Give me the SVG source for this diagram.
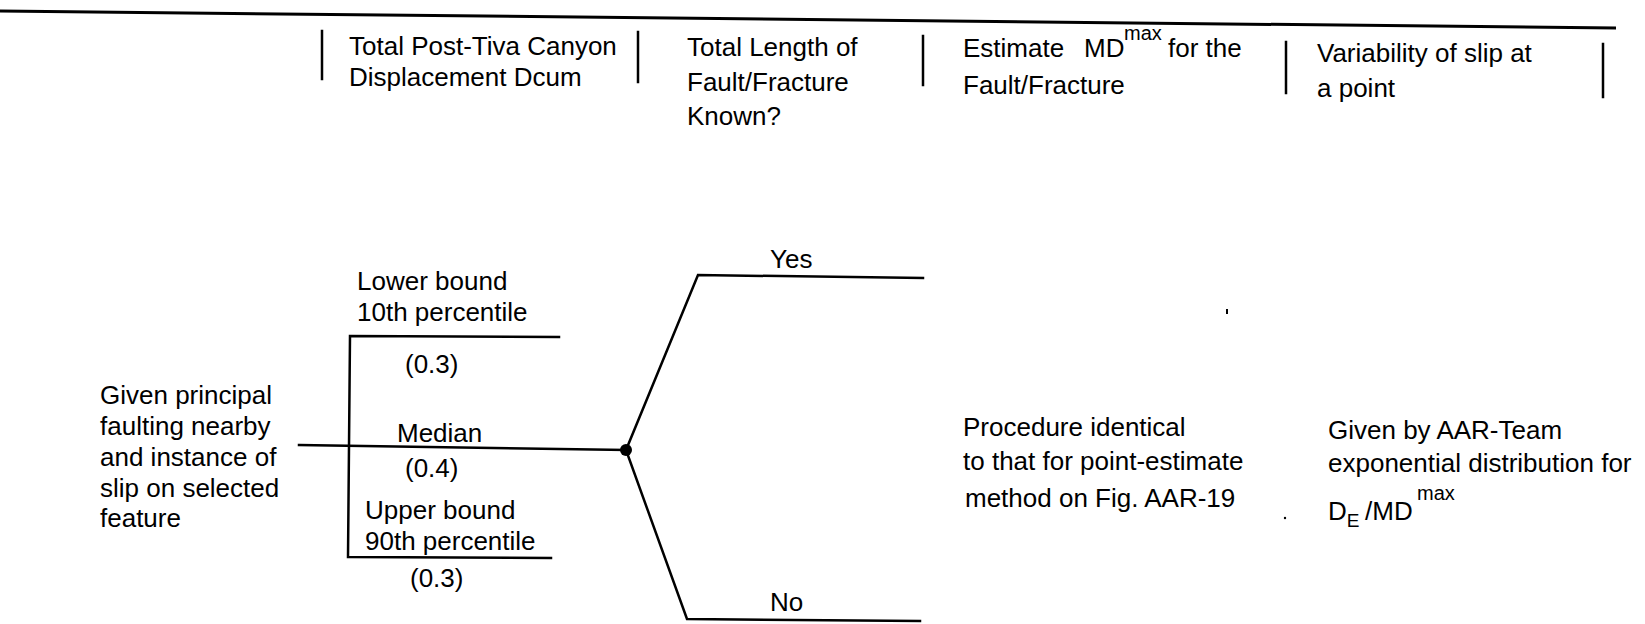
<svg xmlns="http://www.w3.org/2000/svg" width="1645" height="624" viewBox="0 0 1645 624">
  <style>
    .t { font-family: "Liberation Sans", Arial, Helvetica, sans-serif; font-size: 26px; fill: #000; }
    .sup { font-size: 20px; }
    .sub { font-size: 19px; }
    .ln { stroke: #000; stroke-width: 2.5; fill: none; stroke-linecap: square; }
  </style>
  <rect width="1645" height="624" fill="#fff"/>

  <!-- header rule and column separators -->
  <g id="header">
    <path d="M0,11 L1616,28" stroke="#000" stroke-width="3" fill="none"/>
    <path class="ln" d="M322,31 V79 M638,32 V82 M923,36 V85 M1286,42 V93 M1603,44 V97"/>
  </g>

  <g id="col-dcum">
    <text class="t" x="349" y="55">Total Post-Tiva Canyon</text>
    <text class="t" x="349" y="86">Displacement Dcum</text>
  </g>
  <g id="col-length">
    <text class="t" x="687" y="56">Total Length of</text>
    <text class="t" x="687" y="91">Fault/Fracture</text>
    <text class="t" x="687" y="125">Known?</text>
  </g>
  <g id="col-mdmax">
    <text class="t" x="963" y="57">Estimate<tspan x="1084">MD</tspan><tspan class="sup" x="1124" dy="-17">max</tspan><tspan x="1168" dy="17">for the</tspan></text>
    <text class="t" x="963" y="94">Fault/Fracture</text>
  </g>
  <g id="col-variability">
    <text class="t" x="1317" y="62">Variability of slip at</text>
    <text class="t" x="1317" y="97">a point</text>
  </g>

  <!-- decision tree branches -->
  <g id="connectors">
    <path class="ln" d="M299,445 L626,450"/>
    <path class="ln" d="M559,337 L350,336 L348,557 L551,558"/>
    <path class="ln" d="M626,450 L698,275 L923,278"/>
    <path class="ln" d="M626,450 L687,619 L920,621"/>
  </g>

  <g id="start">
    <text class="t" x="100" y="404">Given principal</text>
    <text class="t" x="100" y="435">faulting nearby</text>
    <text class="t" x="100" y="466">and instance of</text>
    <text class="t" x="100" y="497">slip on selected</text>
    <text class="t" x="100" y="527">feature</text>
  </g>

  <g id="dcum-lower">
    <text class="t" x="357" y="290">Lower bound</text>
    <text class="t" x="357" y="321">10th percentile</text>
    <text class="t" x="405" y="373">(0.3)</text>
  </g>
  <g id="dcum-median">
    <text class="t" x="397" y="442">Median</text>
    <text class="t" x="405" y="477">(0.4)</text>
  </g>
  <g id="dcum-upper">
    <text class="t" x="365" y="519">Upper bound</text>
    <text class="t" x="365" y="550">90th percentile</text>
    <text class="t" x="410" y="587">(0.3)</text>
  </g>

  <g id="chance-node">
    <circle cx="626" cy="450" r="6" fill="#000"/>
  </g>

  <g id="length-yes">
    <text class="t" x="770" y="268">Yes</text>
  </g>
  <g id="length-no">
    <text class="t" x="770" y="611">No</text>
  </g>

  <g id="mdmax-procedure">
    <text class="t" x="963" y="436">Procedure identical</text>
    <text class="t" x="963" y="470">to that for point-estimate</text>
    <text class="t" x="965" y="507">method on Fig. AAR-19</text>
  </g>

  <g id="slip-variability">
    <text class="t" x="1328" y="439">Given by AAR-Team</text>
    <text class="t" x="1328" y="472">exponential distribution for</text>
    <text class="t" x="1328" y="520">D<tspan class="sub" dy="7">E</tspan><tspan x="1365" dy="-7">/MD</tspan><tspan class="sup" x="1417" dy="-20">max</tspan></text>
  </g>

  <!-- stray marks -->
  <g id="specks" fill="#000">
    <rect x="1226" y="309" width="2" height="5"/>
    <circle cx="1285" cy="518" r="1.2"/>
  </g>
</svg>
